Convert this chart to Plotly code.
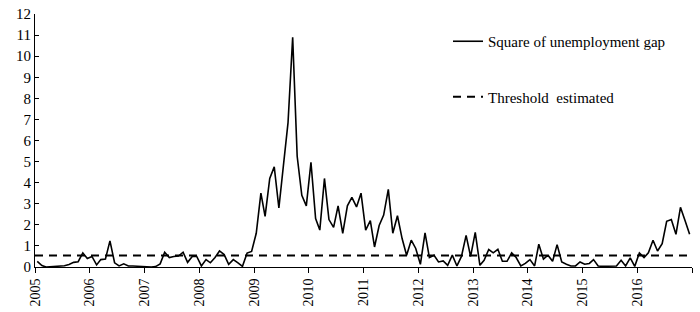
import pandas as pd
import plotly.graph_objects as go

# Monthly values of the square of the unemployment gap, Jan 2005 - Dec 2016
y2005 = [0.27, 0.07, 0.0, 0.02, 0.02, 0.07, 0.06, 0.12, 0.22, 0.25, 0.67, 0.4]
y2006 = [0.5, 0.1, 0.35, 0.38, 1.24, 0.2, 0.05, 0.15, 0.05, 0.05, 0.03, 0.01]
y2007 = [0.0, 0.0, 0.02, 0.15, 0.7, 0.45, 0.5, 0.52, 0.7, 0.22, 0.5, 0.5]
y2008 = [0.05, 0.35, 0.2, 0.45, 0.76, 0.59, 0.13, 0.35, 0.2, 0.03, 0.66, 0.74]
y2009 = [1.6, 3.5, 2.4, 4.2, 4.75, 2.8, 4.8, 6.85, 10.9, 5.25, 3.4, 2.9]
y2010 = [4.97, 2.3, 1.75, 4.2, 2.25, 1.88, 2.9, 1.6, 2.9, 3.3, 2.85, 3.5]
y2011 = [1.75, 2.2, 0.95, 1.97, 2.46, 3.68, 1.6, 2.43, 1.35, 0.56, 1.27, 0.88]
y2012 = [0.13, 1.62, 0.45, 0.56, 0.24, 0.29, 0.08, 0.56, 0.05, 0.5, 1.5, 0.5]
y2013 = [1.64, 0.08, 0.32, 0.83, 0.67, 0.84, 0.27, 0.27, 0.67, 0.45, 0.05, 0.17]
y2014 = [0.35, 0.05, 1.08, 0.37, 0.56, 0.27, 1.06, 0.24, 0.13, 0.05, 0.05, 0.24]
y2015 = [0.13, 0.17, 0.35, 0.05, 0.03, 0.03, 0.03, 0.05, 0.32, 0.05, 0.43, 0.03]
y2016 = [0.67, 0.45, 0.67, 1.27, 0.76, 1.11, 2.17, 2.25, 1.55, 2.83, 2.19, 1.55]

threshold = 0.55
years = list(range(2005, 2018))
year_labels = [str(y) for y in years[:-1]] + [""]

gap_sq = (y2005 + y2006 + y2007 + y2008 + y2009 + y2010 +
          y2011 + y2012 + y2013 + y2014 + y2015 + y2016)
months = pd.date_range("2005-01-01", periods=len(gap_sq), freq="MS") + pd.Timedelta(days=15)

fig = go.Figure()
fig.add_trace(go.Scatter(
    x=months, y=gap_sq, mode="lines", name="Square of unemployment gap",
    line=dict(color="black", width=1.6), legendgroup="a"))
fig.add_trace(go.Scatter(
    x=[pd.Timestamp("2005-01-01"), pd.Timestamp("2017-01-01")],
    y=[threshold, threshold], mode="lines", name="Threshold  estimated",
    line=dict(color="black", width=2, dash="8px,6px"), legendgroup="b"))

tickdates = [pd.Timestamp(f"{y}-01-01") for y in years]

W, H = 700, 312
fig.update_layout(
    width=W, height=H,
    margin=dict(l=35, r=8, t=14, b=45, autoexpand=False),
    paper_bgcolor="white", plot_bgcolor="white",
    font=dict(family="Liberation Serif, Times New Roman, serif", size=15, color="black"),
    showlegend=True,
    legend=dict(x=448 / W, y=1 - 25 / H, xref="container", yref="container",
                xanchor="left", yanchor="top", bgcolor="rgba(0,0,0,0)",
                tracegroupgap=33, font=dict(size=15)),
    xaxis=dict(type="date", range=[tickdates[0], tickdates[-1]], automargin=False,
               tickmode="array", tickvals=tickdates, ticktext=year_labels,
               tickangle=-90, ticks="outside", ticklen=5, tickcolor="black",
               showline=True, linecolor="black", linewidth=1,
               showgrid=False, zeroline=False, tickfont=dict(size=14)),
    yaxis=dict(range=[0, 12], dtick=1, ticks="inside", ticklen=4, tickcolor="black",
               automargin=False, ticklabeloverflow="allow",
               showline=True, linecolor="black", linewidth=1,
               showgrid=False, zeroline=False, tickfont=dict(size=15)),
)

fig.write_html("out.html", config={"displayModeBar": False},
               post_script="document.body.style.margin='0';")
